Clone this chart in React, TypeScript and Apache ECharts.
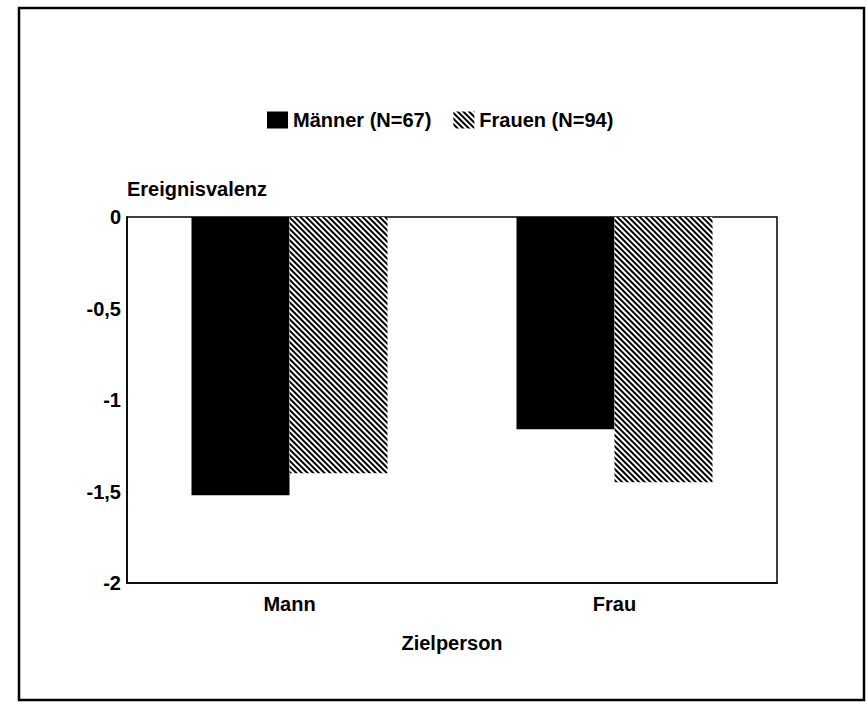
import React, { useEffect, useRef } from "react";
import * as echarts from "echarts";

const categories = ["Mann", "Frau"];
const maennerValues = [-1.52, -1.16];
const frauenValues = [-1.4, -1.45];
const seriesNames = ["Männer (N=67)", "Frauen (N=94)"];
const yAxisName = "Ereignisvalenz";
const xAxisName = "Zielperson";

const FONT = "'Liberation Sans', Arial, Helvetica, sans-serif";

export default function App() {
  const ref = useRef<HTMLDivElement>(null);
  useEffect(() => {
    if (!ref.current) return;
    const chart = echarts.init(ref.current, undefined, { renderer: "svg" });
    const textBase = { color: "#000", fontFamily: FONT, fontWeight: "bold" as const, fontSize: 20 };
    chart.setOption({
      animation: false,
      backgroundColor: "#fff",
      legend: {
        left: 262,
        top: 105,
        icon: "rect",
        itemWidth: 21,
        itemHeight: 17,
        itemGap: 22,
        textStyle: { ...textBase, padding: [2, 0, 0, 0] },
        data: seriesNames,
      },
      grid: {
        left: 127,
        top: 217,
        right: 89,
        bottom: 119,
        show: true,
        borderColor: "#000",
        borderWidth: 1.5,
        backgroundColor: "transparent",
      },
      xAxis: {
        type: "category",
        data: categories,
        position: "bottom",
        axisLine: { onZero: false, lineStyle: { color: "#000", width: 1.5 } },
        axisTick: { show: false },
        axisLabel: { ...textBase, margin: 11 },
        name: xAxisName,
        nameLocation: "middle",
        nameGap: 50,
        nameTextStyle: { ...textBase, padding: [0, 0, 0, 0] },
      },
      yAxis: {
        type: "value",
        min: -2,
        max: 0,
        interval: 0.5,
        axisLine: { show: true, lineStyle: { color: "#000", width: 1.5 } },
        axisTick: { show: false },
        splitLine: { show: false },
        axisLabel: {
          ...textBase,
          margin: 6,
          formatter: (v: number) => String(v).replace(".", ","),
        },
        name: yAxisName,
        nameLocation: "end",
        nameGap: 18,
        nameTextStyle: { ...textBase, align: "left", padding: [0, 0, 0, 0] },
      },
      series: [
        {
          name: seriesNames[0],
          type: "bar",
          data: maennerValues,
          barWidth: 98,
          barGap: "0%",
          itemStyle: { color: "#000" },
        },
        {
          name: seriesNames[1],
          type: "bar",
          data: frauenValues,
          barWidth: 98,
          barGap: "0%",
          itemStyle: {
            color: "#fff",
            decal: {
              symbol: "rect",
              symbolSize: 1,
              color: "#000",
              backgroundColor: "#fff",
              dashArrayX: [1, 0],
              dashArrayY: [1.4, 1.4],
              rotation: Math.PI / 4,
            },
          },
        },
      ],
      graphic: [
        {
          type: "rect",
          shape: { x: 19, y: 8, width: 845, height: 692 },
          style: { fill: "none", stroke: "#000", lineWidth: 2.5 },
          silent: true,
        },
      ],
    });
    return () => chart.dispose();
  }, []);
  return (
    <div
      ref={ref}
      style={{ position: "absolute", left: 0, top: 0, width: 866, height: 702 }}
    />
  );
}
